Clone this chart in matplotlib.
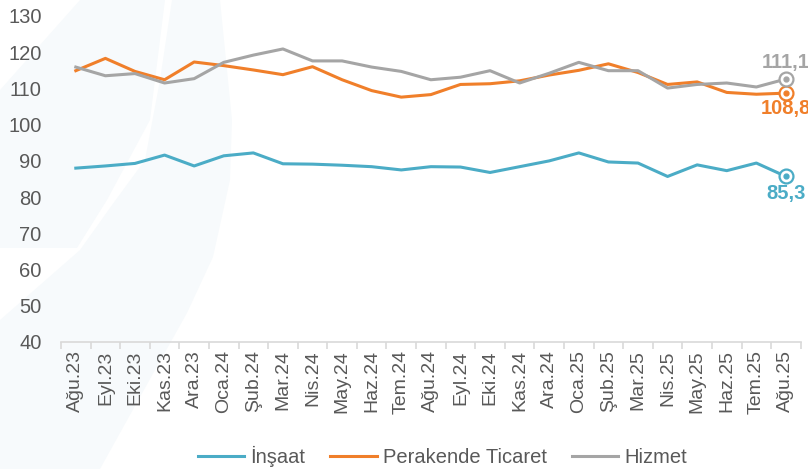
import matplotlib.pyplot as plt
import matplotlib.patches as mpatches
import numpy as np

months = ["Ağu.23", "Eyl.23", "Eki.23", "Kas.23", "Ara.23", "Oca.24", "Şub.24",
          "Mar.24", "Nis.24", "May.24", "Haz.24", "Tem.24", "Ağu.24", "Eyl.24",
          "Eki.24", "Kas.24", "Ara.24", "Oca.25", "Şub.25", "Mar.25", "Nis.25",
          "May.25", "Haz.25", "Tem.25", "Ağu.25"]

insaat = [88.0, 88.6, 89.3, 91.6, 88.6, 91.4, 92.2, 89.2, 89.1, 88.8, 88.4, 87.5,
          88.4, 88.3, 86.8, 88.4, 90.0, 92.2, 89.7, 89.4, 85.7, 88.9, 87.3, 89.4, 85.7]
perakende = [114.9, 118.3, 114.7, 112.4, 117.3, 116.3, 115.1, 113.8, 116.0, 112.4,
             109.4, 107.6, 108.3, 111.1, 111.3, 112.1, 113.7, 115.0, 116.8, 114.4,
             111.1, 111.8, 108.9, 108.4, 108.7]
hizmet = [115.9, 113.5, 114.1, 111.5, 112.7, 117.2, 119.2, 120.9, 117.6, 117.6,
          115.9, 114.7, 112.4, 113.1, 114.9, 111.5, 114.2, 117.2, 114.9, 114.9,
          110.1, 111.1, 111.5, 110.4, 112.6]

series_names = ["İnşaat", "Perakende Ticaret", "Hizmet"]
end_labels = ["85,3", "108,8", "111,1"]
colors = ["#4bacc6", "#f07f2a", "#a5a5a5"]

plt.rcParams['font.family'] = ['Liberation Sans', 'DejaVu Sans']

fig = plt.figure(figsize=(8.08, 4.69), dpi=100)

# faint logo watermark behind the chart (pixel coordinates, y down)
bg = fig.add_axes([0, 0, 1, 1], zorder=-10)
bg.set_xlim(0, 808)
bg.set_ylim(469, 0)
bg.axis('off')
wm = '#f7fafc'
bg.add_patch(mpatches.Polygon([(80, 0), (165, 0), (150, 120), (107, 200), (77, 248),
                               (0, 248), (0, 90)], facecolor=wm, edgecolor='none'))
bg.add_patch(mpatches.Polygon([(172, 0), (220, 0), (232, 120), (230, 180), (213, 257),
                               (187, 313), (140, 397), (100, 469), (0, 469), (0, 320),
                               (80, 250), (112, 205), (145, 160), (160, 80)],
                              facecolor=wm, edgecolor='none'))

ax = fig.add_axes([0.0755, 0.2708, 0.9155, 0.6951])
ax.patch.set_alpha(0)

x = np.arange(len(months))
for vals, name, c in zip([insaat, perakende, hizmet], series_names, colors):
    ax.plot(x, vals, color=c, lw=2.2, label=name)
    ax.plot(x[-1], vals[-1], 'o', ms=10, mfc='white', mec=c, mew=1.6, clip_on=False)
    ax.plot(x[-1], vals[-1], 'o', ms=3.5, color=c, clip_on=False)

# end value labels (cut by the right edge, as in the original)
offsets = [-12, -11, 12]
for vals, lab, c, dy in zip([insaat, perakende, hizmet], end_labels, colors, offsets):
    ax.annotate(lab, (x[-1], vals[-1]), xytext=(0, dy), textcoords='offset points',
                ha='center', va='center', color=c, fontsize=14.5, fontweight='bold',
                annotation_clip=False)

ax.set_ylim(40, 130)
ax.set_yticks(np.arange(40, 131, 10))
ax.set_xlim(-0.5, len(months) - 0.5)
ax.set_xticks(x)
ax.set_xticklabels(months, rotation=90)
ax.set_xticks(np.arange(-0.5, len(months), 1), minor=True)

for s in ['top', 'right', 'left']:
    ax.spines[s].set_visible(False)
ax.spines['bottom'].set_color('#d9d9d9')
ax.spines['bottom'].set_linewidth(1.2)

ax.tick_params(axis='y', length=0, pad=14, labelsize=14.5, labelcolor='#595959')
ax.tick_params(axis='x', which='major', length=0, pad=6, labelsize=14, labelcolor='#595959')
ax.tick_params(axis='x', which='minor', length=5, width=1.2, color='#d9d9d9')

fig.legend(loc='center', bbox_to_anchor=(0.5477, 0.026), ncol=3, frameon=False,
           fontsize=14.5, labelcolor='#595959', handlelength=2.3, columnspacing=1.25,
           handletextpad=0.3)

fig.savefig('out.png', dpi=100)
